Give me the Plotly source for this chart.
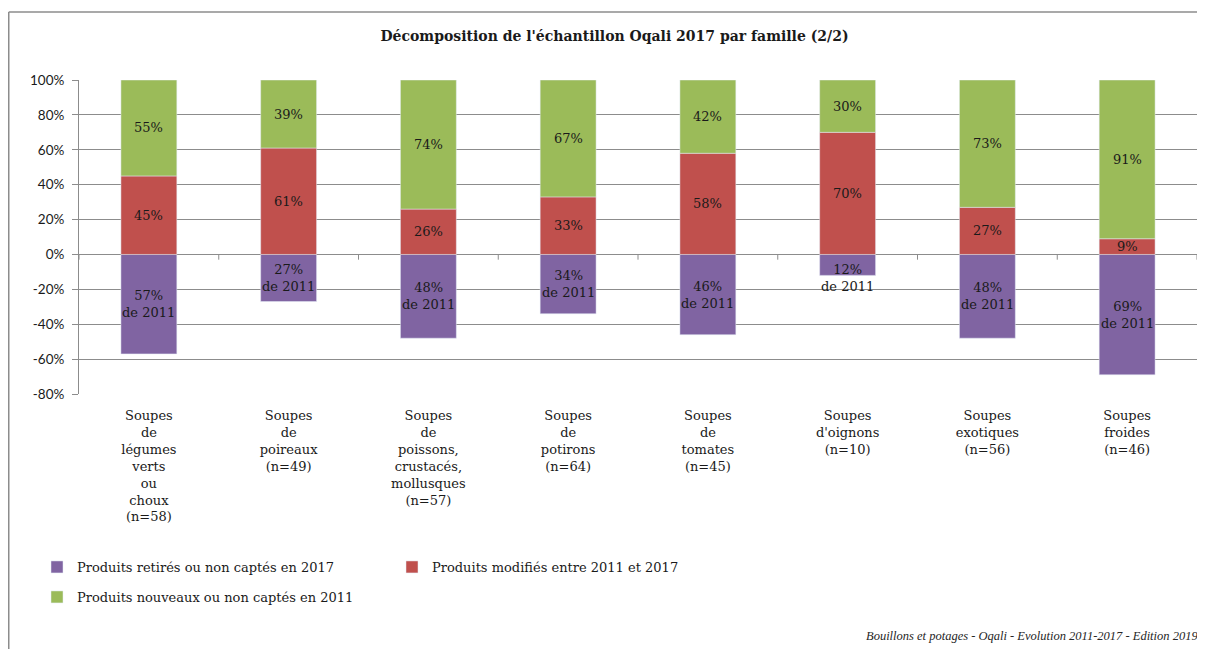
import plotly.graph_objects as go

categories = [
    "Soupes<br>de<br>légumes<br>verts<br>ou<br>choux<br>(n=58)",
    "Soupes<br>de<br>poireaux<br>(n=49)",
    "Soupes<br>de<br>poissons,<br>crustacés,<br>mollusques<br>(n=57)",
    "Soupes<br>de<br>potirons<br>(n=64)",
    "Soupes<br>de<br>tomates<br>(n=45)",
    "Soupes<br>d'oignons<br>(n=10)",
    "Soupes<br>exotiques<br>(n=56)",
    "Soupes<br>froides<br>(n=46)",
]
retires = [-57, -27, -48, -34, -46, -12, -48, -69]
modifies = [45, 61, 26, 33, 58, 70, 27, 9]
nouveaux = [55, 39, 74, 67, 42, 30, 73, 91]

series_names = [
    "Produits retirés ou non captés en 2017",
    "Produits modifiés entre 2011 et 2017",
    "Produits nouveaux ou non captés en 2011",
]
colors = ["#8064A2", "#C0504D", "#9BBB59"]

tick_vals = [-80, -60, -40, -20, 0, 20, 40, 60, 80, 100]
tick_text = [f"{v}%" for v in tick_vals]

title_text = "Décomposition de l'échantillon Oqali 2017 par famille (2/2)"
footer_text = "Bouillons et potages - Oqali - Evolution 2011-2017 - Edition 2019"

SERIF = "DejaVu Serif, serif"
TXT = "#1a1a1a"
GRID = "#8c8c8c"

# figure geometry (page is offset by the body's 8px margin)
W, H = 1189, 641
L, T, R, B = 71, 72, 0, 255
PW, PH = W - L - R, H - T - B


def px_x(p):
    return (p - L) / PW


def px_y(p):
    return (H - B - p) / PH


xs = list(range(len(categories)))

fig = go.Figure()
fig.add_trace(go.Bar(x=xs, y=retires, name=series_names[0], marker_color=colors[0],
                     width=0.4, legend="legend", hoverinfo="skip"))
fig.add_trace(go.Bar(x=xs, y=modifies, name=series_names[1], marker_color=colors[1],
                     width=0.4, legend="legend", hoverinfo="skip"))
fig.add_trace(go.Bar(x=xs, y=nouveaux, name=series_names[2], marker_color=colors[2],
                     width=0.4, legend="legend2", hoverinfo="skip"))

lab_font = dict(family=SERIF, size=13, color=TXT)
annotations = []
for i in xs:
    r = retires[i]
    if abs(r) >= 20:
        annotations.append(dict(x=i, y=r / 2, text=f"{-r}%<br>de 2011", showarrow=False,
                                font=lab_font))
    else:
        annotations.append(dict(x=i, y=0, yanchor="top", yshift=-6, text=f"{-r}%<br>de 2011",
                                showarrow=False, font=lab_font))
    annotations.append(dict(x=i, y=modifies[i] / 2, text=f"{modifies[i]}%",
                            showarrow=False, font=lab_font))
    annotations.append(dict(x=i, y=modifies[i] + nouveaux[i] / 2, text=f"{nouveaux[i]}%",
                            showarrow=False, font=lab_font))

annotations.append(dict(xref="paper", yref="paper", x=px_x(856), y=px_y(628),
                        xanchor="left", yanchor="middle", text=f"<i>{footer_text}</i>",
                        showarrow=False,
                        font=dict(family="Liberation Serif, serif", size=12.5, color="#262626")))

shapes = []
for b in range(len(categories) + 1):
    shapes.append(dict(type="line", xref="x", yref="y", x0=b - 0.5, x1=b - 0.5, y0=0, y1=-3,
                       line=dict(color=GRID, width=1)))
shapes.append(dict(type="line", xref="paper", yref="paper",
                   x0=px_x(0.75), x1=px_x(0.75), y0=px_y(4), y1=px_y(H + 5),
                   line=dict(color=GRID, width=1.5)))
shapes.append(dict(type="line", xref="paper", yref="paper",
                   x0=px_x(0.75), x1=px_x(W + 5), y0=px_y(4), y1=px_y(4),
                   line=dict(color=GRID, width=1.5)))

fig.update_layout(
    width=W, height=H,
    barmode="relative",
    margin=dict(l=L, r=R, t=T, b=B, autoexpand=False),
    plot_bgcolor="white", paper_bgcolor="white",
    title=dict(text=f"<b>{title_text}</b>", x=606.5 / W, xanchor="center",
               y=1 - 28 / H, yanchor="middle", yref="container",
               font=dict(family=SERIF, size=14, color=TXT)),
    xaxis=dict(tickmode="array", tickvals=xs, ticktext=categories, range=[-0.5, 7.5],
               showgrid=False, zeroline=False, showline=False, ticks="",
               ticklabelstandoff=12,
               tickfont=dict(family=SERIF, size=13, color=TXT)),
    yaxis=dict(range=[-80, 100], tickmode="array", tickvals=tick_vals, ticktext=tick_text,
               showgrid=True, gridcolor=GRID, gridwidth=1,
               zeroline=True, zerolinecolor=GRID, zerolinewidth=1,
               showline=True, linecolor=GRID, linewidth=1,
               ticks="outside", ticklen=6, tickcolor=GRID, ticklabelstandoff=5,
               tickfont=dict(family="Lato, Liberation Sans, sans-serif", size=13.5, color=TXT)),
    legend=dict(orientation="h", x=px_x(29), xanchor="left",
                y=px_y(559), yanchor="middle", entrywidth=310,
                font=dict(family=SERIF, size=13, color=TXT), bgcolor="rgba(0,0,0,0)"),
    legend2=dict(orientation="h", x=px_x(29), xanchor="left",
                 y=px_y(589), yanchor="middle",
                 font=dict(family=SERIF, size=13, color=TXT), bgcolor="rgba(0,0,0,0)"),
    annotations=annotations,
    shapes=shapes,
)

fig.write_html("out.html")
